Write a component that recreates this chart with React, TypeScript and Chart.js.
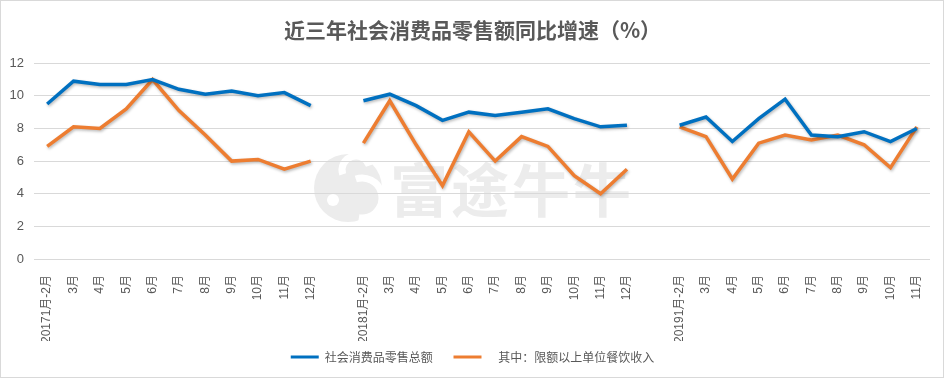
import React, { useEffect, useRef } from "react";
import { Chart, registerables } from "chart.js";

Chart.register(...registerables);

const categories = [
  "20171月-2月", "3月", "4月", "5月", "6月", "7月", "8月", "9月", "10月", "11月", "12月",
  "",
  "20181月-2月", "3月", "4月", "5月", "6月", "7月", "8月", "9月", "10月", "11月", "12月",
  "",
  "20191月-2月", "3月", "4月", "5月", "6月", "7月", "8月", "9月", "10月", "11月",
];

const totalRetail = [
  9.5, 10.9, 10.7, 10.7, 11.0, 10.4, 10.1, 10.3, 10.0, 10.2, 9.4,
  null,
  9.7, 10.1, 9.4, 8.5, 9.0, 8.8, 9.0, 9.2, 8.6, 8.1, 8.2,
  null,
  8.2, 8.7, 7.2, 8.6, 9.8, 7.6, 7.5, 7.8, 7.2, 8.0,
];

const cateringAbove = [
  6.9, 8.1, 8.0, 9.2, 11.0, 9.1, 7.6, 6.0, 6.1, 5.5, 6.0,
  null,
  7.1, 9.7, 7.0, 4.5, 7.8, 6.0, 7.5, 6.9, 5.1, 4.0, 5.5,
  null,
  8.1, 7.5, 4.9, 7.1, 7.6, 7.3, 7.6, 7.0, 5.6, 8.1,
];

const yTicks = [0, 2, 4, 6, 8, 10, 12];

const titleText = "近三年社会消费品零售额同比增速（%）";
const seriesNames = ["社会消费品零售总额", "其中：限额以上单位餐饮收入"];
const seriesColors = ["#0070C0", "#ED7D31"];
const legendLeadSpaces = ["", "    "];
const legendTrailSpaces = ["    ", ""];
const watermarkText = "富途牛牛";

const FONT = "'Liberation Sans', 'Noto Sans CJK SC', sans-serif";
const CJK = "'Noto Sans CJK SC', 'Liberation Sans', sans-serif";

const bgPlugin = {
  id: "bgWatermark",
  beforeDraw(chart: any) {
    const ctx = chart.ctx;
    ctx.save();
    ctx.fillStyle = "#ffffff";
    ctx.fillRect(0, 0, chart.width, chart.height);
    // watermark logo
    ctx.fillStyle = "#ececec";
    ctx.beginPath();
    ctx.arc(348, 188, 34, 0, Math.PI * 2);
    ctx.fill();
    ctx.strokeStyle = "#ffffff";
    ctx.lineWidth = 7;
    ctx.beginPath();
    ctx.arc(356, 170, 14, Math.PI * 0.9, Math.PI * 1.9, false);
    ctx.stroke();
    ctx.beginPath();
    ctx.arc(362, 198, 20, Math.PI * 1.4, Math.PI * 0.55, false);
    ctx.stroke();
    ctx.fillStyle = "#ffffff";
    ctx.beginPath();
    ctx.arc(333, 200, 6, 0, Math.PI * 2);
    ctx.fill();
    ctx.fillStyle = "#ececec";
    ctx.font = `bold 58px ${CJK}`;
    ctx.textBaseline = "middle";
    ctx.textAlign = "left";
    const chars = watermarkText.split("");
    chars.forEach((c: string, i: number) => {
      ctx.fillText(c, 390 + i * 61, 190);
    });
    ctx.restore();
  },
  afterDraw(chart: any) {
    const ctx = chart.ctx;
    ctx.save();
    ctx.strokeStyle = "#d9d9d9";
    ctx.lineWidth = 1;
    ctx.strokeRect(0.5, 0.5, chart.width - 2, chart.height - 2);
    ctx.restore();
  },
  beforeDatasetDraw(chart: any) {
    const ctx = chart.ctx;
    ctx.save();
    ctx.shadowColor = "rgba(0,0,0,0.28)";
    ctx.shadowBlur = 3;
    ctx.shadowOffsetX = 1;
    ctx.shadowOffsetY = 1.5;
  },
  afterDatasetDraw(chart: any) {
    chart.ctx.restore();
  },
};

export default function App() {
  const ref = useRef<HTMLCanvasElement | null>(null);

  useEffect(() => {
    document.body.style.margin = "0";
    const canvas = ref.current;
    if (!canvas) return;
    const chart = new Chart(canvas, {
      type: "line",
      data: {
        labels: categories,
        datasets: [
          {
            label: seriesNames[0],
            data: totalRetail,
            borderColor: seriesColors[0],
            backgroundColor: seriesColors[0],
            borderWidth: 3.5,
            pointRadius: 0,
            spanGaps: false,
            tension: 0,
          },
          {
            label: seriesNames[1],
            data: cateringAbove,
            borderColor: seriesColors[1],
            backgroundColor: seriesColors[1],
            borderWidth: 3.5,
            pointRadius: 0,
            spanGaps: false,
            tension: 0,
          },
        ],
      },
      options: {
        responsive: false,
        animation: false,
        layout: { padding: { left: 0, right: 0, top: 0, bottom: 6 } },
        plugins: {
          title: {
            display: true,
            text: titleText,
            color: "#595959",
            font: { family: CJK, size: 21, weight: "bold" },
            padding: { top: 17, bottom: 21 },
          },
          legend: {
            display: true,
            position: "bottom",
            labels: {
              color: "#595959",
              font: { family: CJK, size: 12 },
              boxWidth: 28,
              boxHeight: 3,
              padding: 10,
              generateLabels: (ch: any) =>
                ch.data.datasets.map((ds: any, i: number) => ({
                  text: legendLeadSpaces[i] + ds.label + legendTrailSpaces[i],
                  fillStyle: seriesColors[i],
                  strokeStyle: seriesColors[i],
                  lineWidth: 0,
                  hidden: false,
                  datasetIndex: i,
                  fontColor: "#595959",
                })),
            },
          },
          tooltip: { enabled: false },
        },
        scales: {
          x: {
            offset: true,
            grid: { display: false },
            border: { display: false },
            ticks: {
              autoSkip: false,
              minRotation: 90,
              maxRotation: 90,
              padding: 8,
              color: "#595959",
              font: { family: FONT, size: 12 },
            },
            afterFit: (s: any) => {
              s.height = 82;
            },
          },
          y: {
            min: 0,
            max: 12,
            afterBuildTicks: (s: any) => {
              s.ticks = yTicks.map((v) => ({ value: v }));
            },
            grid: { color: "#d9d9d9", lineWidth: 1, drawTicks: false },
            border: { display: false },
            ticks: {
              padding: 10,
              color: "#595959",
              font: { family: FONT, size: 13 },
            },
            afterFit: (s: any) => {
              s.width = 34;
            },
          },
          yRightSpacer: {
            type: "linear",
            position: "right",
            min: 0,
            max: 12,
            grid: { display: false, drawTicks: false },
            border: { display: false },
            ticks: { display: false },
            afterFit: (s: any) => {
              s.width = 15;
            },
          },
        },
      },
      plugins: [bgPlugin],
    });
    return () => chart.destroy();
  }, []);

  return (
    <div style={{ width: 945, height: 379 }}>
      <canvas ref={ref} width={945} height={379} style={{ display: "block" }} />
    </div>
  );
}
